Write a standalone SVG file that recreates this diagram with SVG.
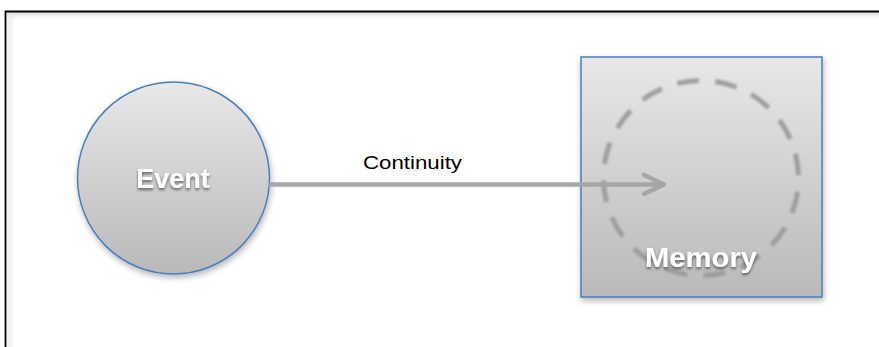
<svg xmlns="http://www.w3.org/2000/svg" width="879" height="347" viewBox="0 0 879 347">
  <style>
    .node-stroke { stroke: #4a7ebb; stroke-width: 1.5; }
    .label { font-family: "Liberation Sans", Arial, sans-serif; font-weight: bold; fill: #ffffff; text-anchor: middle; }
    .edge-label { font-family: "Liberation Sans", Arial, sans-serif; font-size: 18px; fill: #000000; }
    .edge { stroke: #a3a3a3; stroke-width: 4.5; fill: none; stroke-linecap: round; stroke-linejoin: round; opacity: 0.95; }
  </style>
  <defs>
    <linearGradient id="shade" x1="0" y1="0" x2="0" y2="1">
      <stop offset="0" stop-color="#e8e8e8"/>
      <stop offset="1" stop-color="#b9b9b9"/>
    </linearGradient>
    <linearGradient id="frameShade" x1="0" y1="0" x2="0" y2="1">
      <stop offset="0" stop-color="#d8d8d8"/>
      <stop offset="1" stop-color="#ffffff" stop-opacity="0"/>
    </linearGradient>
    <filter id="drop" x="-20%" y="-20%" width="140%" height="140%">
      <feGaussianBlur in="SourceAlpha" stdDeviation="3"/>
      <feOffset dx="1" dy="3" result="b"/>
      <feComponentTransfer><feFuncA type="linear" slope="0.3"/></feComponentTransfer>
      <feMerge><feMergeNode/><feMergeNode in="SourceGraphic"/></feMerge>
    </filter>
    <filter id="textShadow" x="-20%" y="-30%" width="140%" height="160%">
      <feGaussianBlur in="SourceAlpha" stdDeviation="1.8"/>
      <feOffset dx="0" dy="2"/>
      <feComponentTransfer><feFuncA type="linear" slope="0.55"/></feComponentTransfer>
      <feMerge><feMergeNode/><feMergeNode in="SourceGraphic"/></feMerge>
    </filter>
    <filter id="soft" x="-10%" y="-10%" width="120%" height="120%">
      <feGaussianBlur stdDeviation="1"/>
    </filter>
  </defs>

  <rect width="879" height="347" fill="#ffffff"/>

  <!-- outer frame with faint inner shading along the top -->
  <g id="frame">
    <rect x="7" y="12" width="880" height="10" fill="url(#frameShade)"/>
    <rect x="7" y="12" width="6" height="340" fill="#e6e6e6" opacity="0.5"/>
    <path d="M5.5 350 V11.5 H885" fill="none" stroke="#000000" stroke-width="1.8"/>
  </g>

  <!-- Event -->
  <g id="event">
    <circle cx="173.5" cy="178" r="96" fill="url(#shade)" class="node-stroke" filter="url(#drop)"/>
    <text x="173" y="188" class="label" font-size="27" filter="url(#textShadow)">Event</text>
  </g>

  <!-- Memory: box with a dashed ring inside -->
  <g id="memory">
    <rect x="581" y="57" width="241" height="240" fill="url(#shade)" class="node-stroke" filter="url(#drop)"/>
    <circle cx="701" cy="178" r="97.5" fill="none" stroke="#999999" stroke-width="5" stroke-dasharray="22 16.28" opacity="0.9" filter="url(#soft)" transform="rotate(-14.5 701 178)"/>
    <text x="701" y="267" class="label" font-size="28" textLength="112" lengthAdjust="spacingAndGlyphs" filter="url(#textShadow)">Memory</text>
  </g>

  <!-- connectors -->
  <g id="connectors">
    <g id="continuity">
      <path class="edge" d="M270 184.5 H662"/>
      <path class="edge" d="M644 175 L664 184.5 L644 194"/>
      <text x="363" y="169" class="edge-label" textLength="99" lengthAdjust="spacingAndGlyphs">Continuity</text>
    </g>
  </g>
</svg>
